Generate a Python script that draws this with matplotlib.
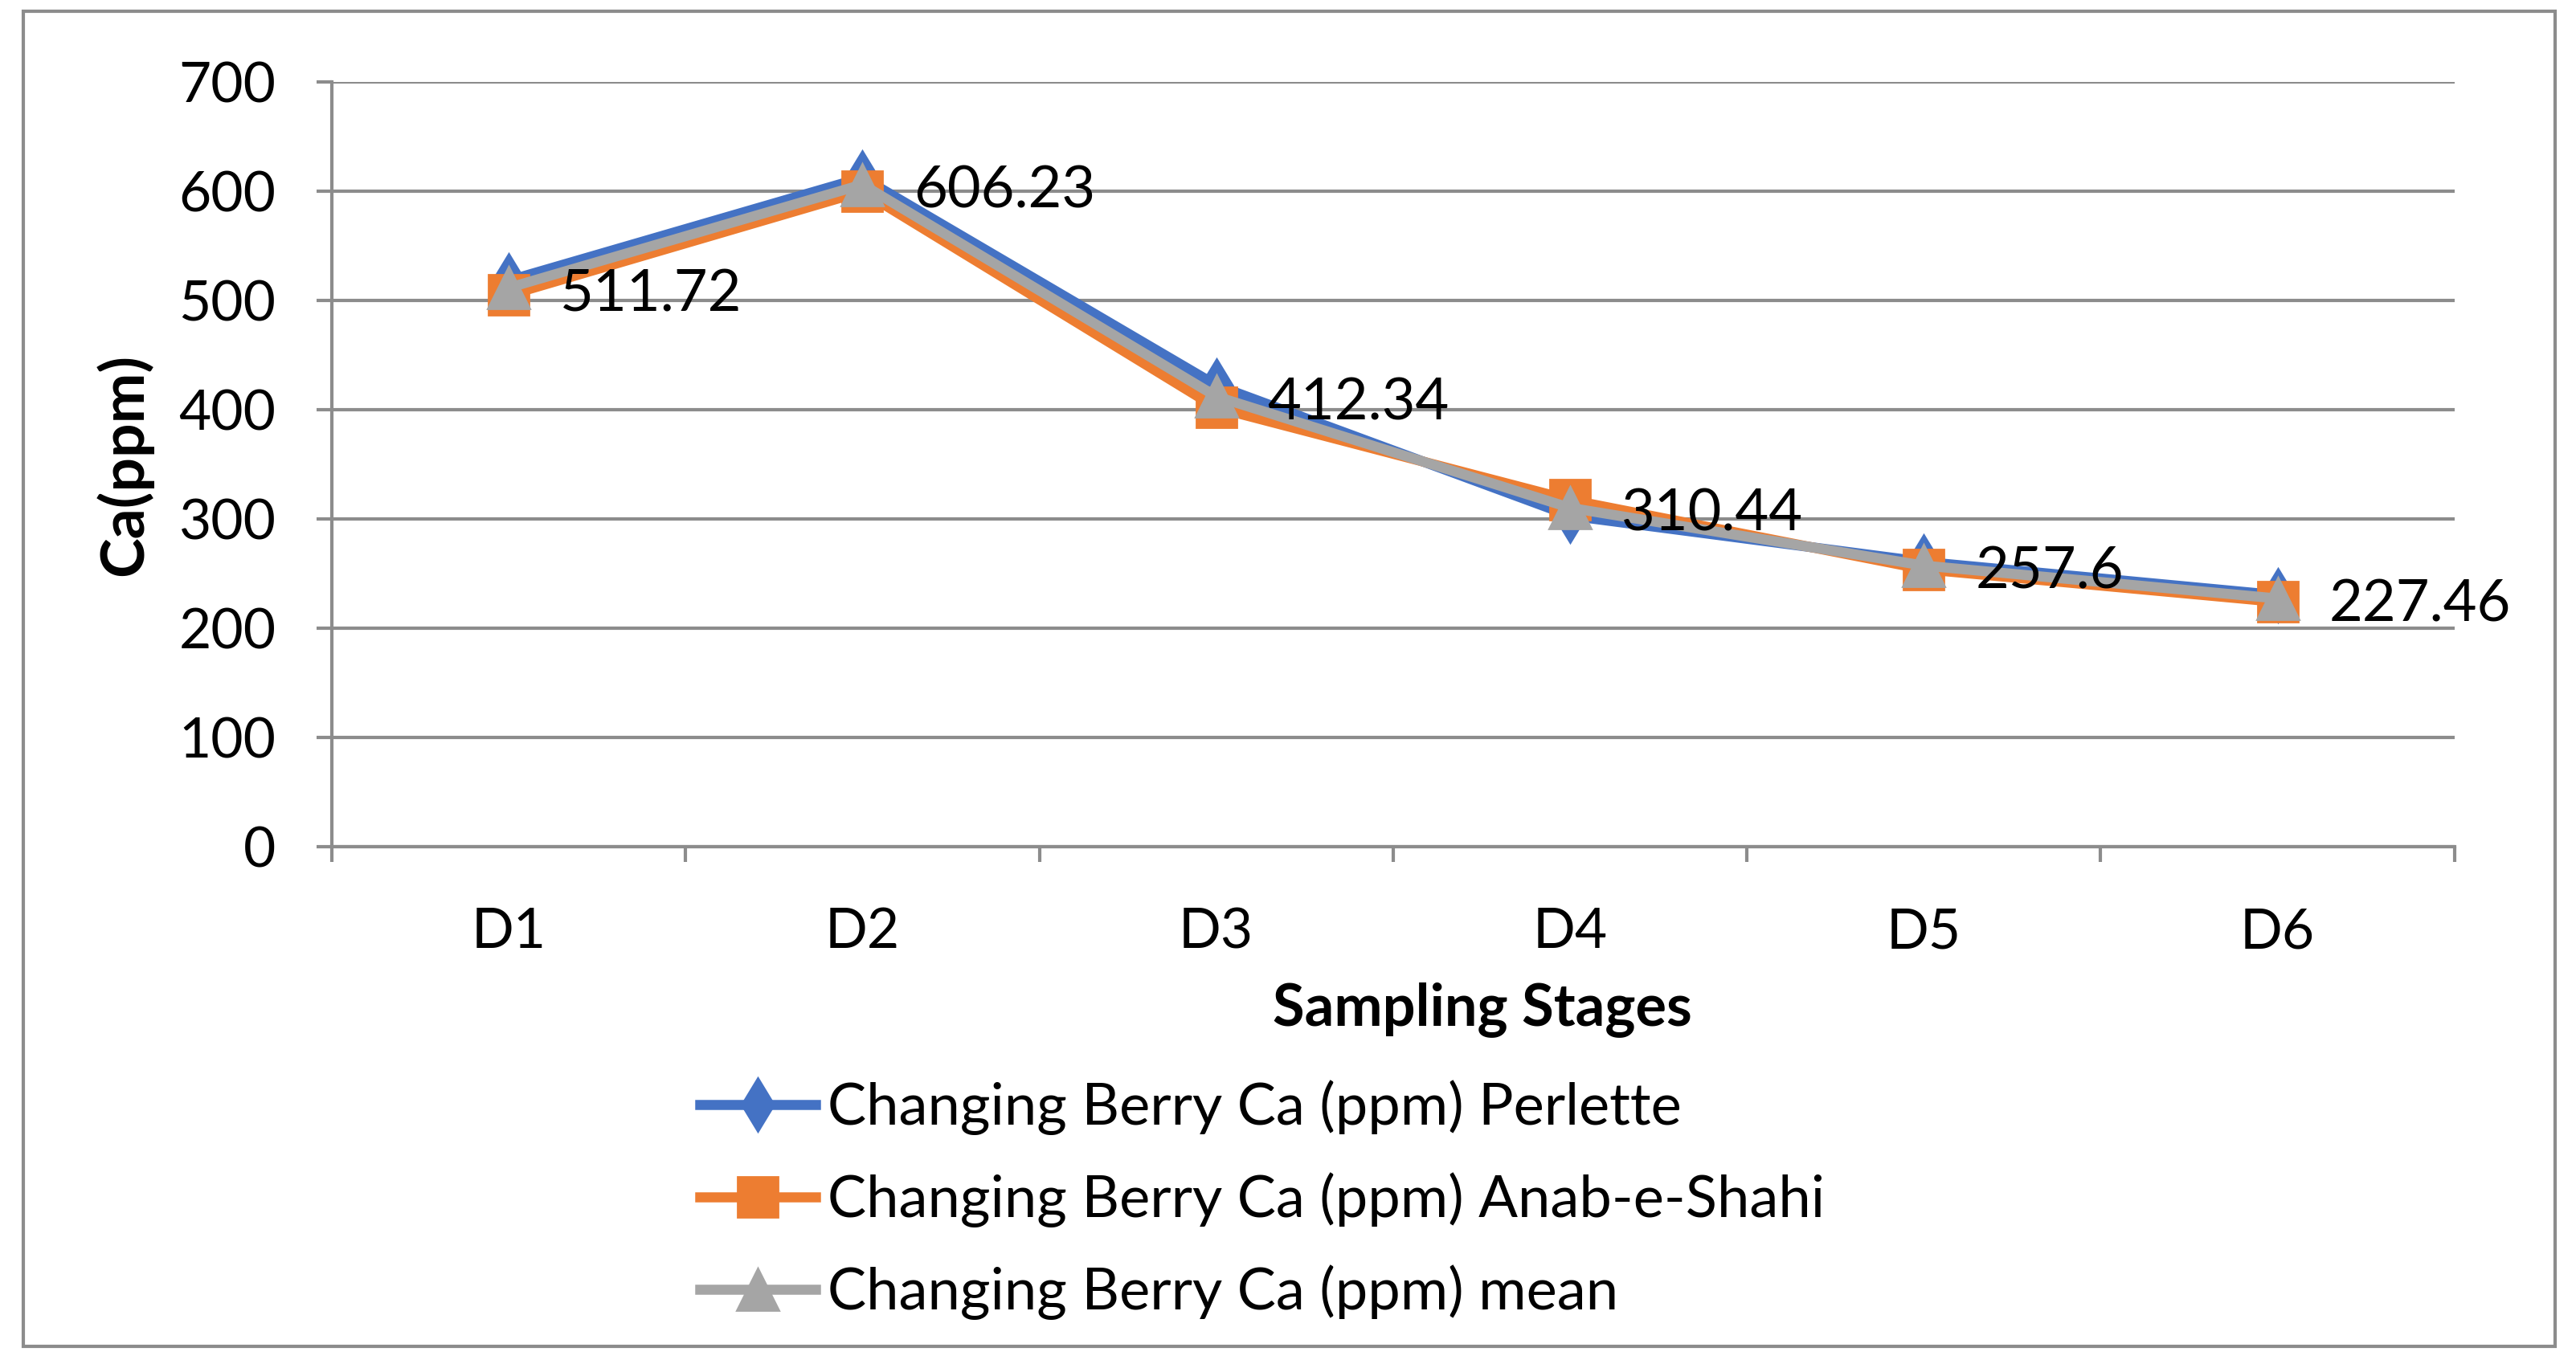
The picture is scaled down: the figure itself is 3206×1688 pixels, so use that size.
import matplotlib.pyplot as plt
from matplotlib.patches import Rectangle

stages = ["D1", "D2", "D3", "D4", "D5", "D6"]
perlette = [518.4, 612.5, 422.6, 303.2, 261.0, 230.6]
anab_e_shahi = [505.04, 599.96, 402.08, 317.68, 254.2, 224.32]
mean = [511.72, 606.23, 412.34, 310.44, 257.6, 227.46]
y_ticks = [0, 100, 200, 300, 400, 500, 600, 700]

plt.rcParams['font.family'] = ['Lato', 'DejaVu Sans']
grid_col = "#8c8c8c"

fig = plt.figure(figsize=(16.03, 8.44), dpi=200)
ax = fig.add_axes([0.1288, 0.3753, 0.824, 0.5642])

x = list(range(len(stages)))
ax.plot(x, perlette, color="#4472C4", lw=4.5, marker="d", ms=17,
        label="Changing Berry Ca (ppm) Perlette", zorder=3)
ax.plot(x, anab_e_shahi, color="#ED7D31", lw=4.5, marker="s", ms=18,
        label="Changing Berry Ca (ppm) Anab-e-Shahi", zorder=4)
ax.plot(x, mean, color="#A5A5A5", lw=4.5, marker="^", ms=19,
        label="Changing Berry Ca (ppm) mean", zorder=5)

for xi, v in zip(x, mean):
    ax.annotate(f"{v:g}", (xi, v), xytext=(23, -3), textcoords="offset points",
                va="center", ha="left", fontsize=26, zorder=6)

ax.set_xlim(-0.5, len(stages) - 0.5)
ax.set_ylim(0, 700)
ax.set_yticks(y_ticks)
ax.tick_params(axis="y", labelsize=25, length=7, width=1.5, color=grid_col, pad=18)
ax.set_xticks(x)
ax.set_xticklabels(stages, fontsize=25)
ax.tick_params(axis="x", which="major", length=0, pad=27)
ax.set_xticks([i - 0.5 for i in range(len(stages) + 1)], minor=True)
ax.tick_params(axis="x", which="minor", length=7, width=1.5, color=grid_col)
ax.grid(axis="y", color=grid_col, lw=1.5)
ax.set_axisbelow(True)

for s in ["top", "right"]:
    ax.spines[s].set_visible(False)
ax.spines["left"].set_color(grid_col)
ax.spines["left"].set_linewidth(1.5)
ax.spines["bottom"].set_color(grid_col)
ax.spines["bottom"].set_linewidth(1.5)

ax.set_xlabel("Sampling Stages", fontsize=26, fontweight="bold")
ax.xaxis.set_label_coords(0.542, -0.212)
ax.xaxis.label.set_va("center")
ax.set_ylabel("Ca(ppm)", fontsize=27, fontweight="bold")
ax.yaxis.set_label_coords(-0.098, 0.5)
ax.yaxis.label.set_va("center")

fig.legend(loc="upper center", bbox_to_anchor=(0.49, 0.242), frameon=False,
           fontsize=26, handlelength=2.0, handletextpad=0.2, labelspacing=0.64)

fig.patches.append(Rectangle((0.009, 0.007), 0.983, 0.985, transform=fig.transFigure,
                             fill=False, edgecolor=grid_col, lw=1.5))

fig.savefig("out.png", dpi=200)
